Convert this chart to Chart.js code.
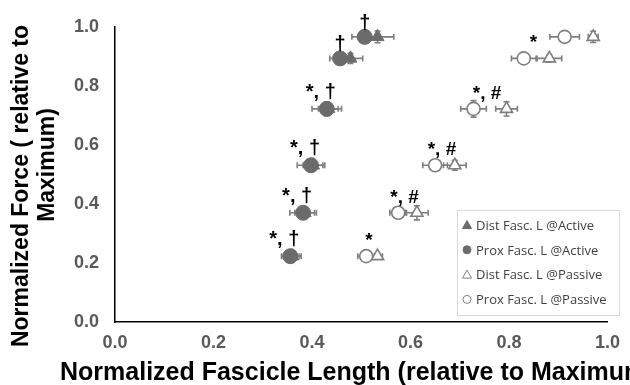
<!DOCTYPE html>
<html>
<head>
<meta charset="utf-8">
<script src="https://cdn.jsdelivr.net/npm/chart.js@4.4.1/dist/chart.umd.min.js"></script>
<style>
  html, body { margin: 0; padding: 0; background: #fff; }
  #wrap { position: relative; width: 630px; height: 385px; }
</style>
</head>
<body>
<div id="wrap"><canvas id="myChart" width="630" height="385"></canvas></div>
<script>
// force levels (y), bottom to top
const forceLevels = [0.223, 0.37, 0.531, 0.722, 0.893, 0.966];

// fascicle lengths (x)
const distActive = [0.36, 0.385, 0.402, 0.433, 0.478, 0.533];
const proxActive = [0.356, 0.382, 0.398, 0.43, 0.457, 0.507];
const distPassive = [0.533, 0.613, 0.69, 0.795, 0.882, 0.971];
const proxPassive = [0.51, 0.575, 0.65, 0.728, 0.83, 0.913];

// horizontal error (x) and vertical error (y)
const distActiveErr = [0.018, 0.02, 0.02, 0.02, 0.025, 0.033];
const proxActiveErr = [0.018, 0.027, 0.028, 0.03, 0.021, 0.026];
const distPassiveErr = [0.01, 0.023, 0.023, 0.022, 0.025, 0.01];
const proxPassiveErr = [0.017, 0.017, 0.025, 0.026, 0.025, 0.03];
const distActiveYErr = [0.01, 0.01, 0.015, 0.02, 0.017, 0.02];
const proxActiveYErr = [0.01, 0.01, 0.01, 0.023, 0.01, 0.01];
const distPassiveYErr = [0.01, 0.024, 0.017, 0.024, 0.012, 0.019];
const proxPassiveYErr = [0.01, 0.01, 0.01, 0.028, 0.01, 0.01];

// significance marks
const activeMarks = ["*, †", "*, †", "*, †", "*, †", "†", "†"];
const passiveMarks = ["*", "*, #", "*, #", "*, #", "*", ""];

const xTicks = [0, 0.2, 0.4, 0.6, 0.8, 1.0];
const yTicks = [0, 0.2, 0.4, 0.6, 0.8, 1.0];

const seriesNames = ["Dist Fasc. L @Active", "Prox Fasc. L @Active", "Dist Fasc. L @Passive", "Prox Fasc. L @Passive"];
const xTitle = "Normalized Fascicle Length (relative to Maximum)";
const yTitle = ["Normalized Force ( relative to", "Maximum)"];

const fillGrey = "#6b6b6b";
const lineGrey = "#7f7f7f";
const fontFam = "'Liberation Sans', Arial, sans-serif";

function pts(xs) {
  return xs.map((x, i) => ({ x: x, y: forceLevels[i] }));
}

const data = {
  datasets: [
    {
      label: seriesNames[0], data: pts(distActive), xErr: distActiveErr, yErr: distActiveYErr,
      pointStyle: "triangle", pointRadius: 7.5, backgroundColor: fillGrey, borderColor: fillGrey, borderWidth: 1, order: 2,
    },
    {
      label: seriesNames[1], data: pts(proxActive), xErr: proxActiveErr, yErr: proxActiveYErr,
      pointStyle: "circle", pointRadius: 7.5, backgroundColor: fillGrey, borderColor: fillGrey, borderWidth: 1, order: 1,
    },
    {
      label: seriesNames[2], data: pts(distPassive), xErr: distPassiveErr, yErr: distPassiveYErr,
      pointStyle: "triangle", pointRadius: 7, backgroundColor: "#fff", borderColor: lineGrey, borderWidth: 1.6, order: 4,
    },
    {
      label: seriesNames[3], data: pts(proxPassive), xErr: proxPassiveErr, yErr: proxPassiveYErr,
      pointStyle: "circle", pointRadius: 6.5, backgroundColor: "#fff", borderColor: lineGrey, borderWidth: 1.6, order: 3,
    },
  ],
};

// error bars behind the markers
const errorBars = {
  id: "errorBars",
  beforeDatasetsDraw(chart) {
    const { ctx, scales: { x, y } } = chart;
    ctx.save();
    ctx.strokeStyle = lineGrey;
    ctx.lineWidth = 1.6;
    chart.data.datasets.forEach((ds) => {
      ds.data.forEach((p, i) => {
        const px = x.getPixelForValue(p.x);
        const py = y.getPixelForValue(p.y);
        const x0 = x.getPixelForValue(p.x - ds.xErr[i]);
        const x1 = x.getPixelForValue(p.x + ds.xErr[i]);
        const y0 = y.getPixelForValue(p.y - ds.yErr[i]);
        const y1 = y.getPixelForValue(p.y + ds.yErr[i]);
        ctx.beginPath();
        ctx.moveTo(x0, py); ctx.lineTo(x1, py);
        ctx.moveTo(x0, py - 3); ctx.lineTo(x0, py + 3);
        ctx.moveTo(x1, py - 3); ctx.lineTo(x1, py + 3);
        ctx.moveTo(px, y0); ctx.lineTo(px, y1);
        ctx.moveTo(px - 3, y0); ctx.lineTo(px + 3, y0);
        ctx.moveTo(px - 3, y1); ctx.lineTo(px + 3, y1);
        ctx.stroke();
      });
    });
    ctx.restore();
  },
};

// *, †, # marks, axis titles and legend box
const marks = {
  id: "marks",
  afterDatasetsDraw(chart) {
    const { ctx, scales: { x, y } } = chart;
    ctx.save();
    ctx.fillStyle = "#000";
    ctx.font = "bold 20px " + fontFam;
    ctx.textBaseline = "alphabetic";
    activeMarks.forEach((m, i) => {
      const cx = x.getPixelForValue(proxActive[i]);
      const cy = y.getPixelForValue(forceLevels[i]);
      if (m === "†") {
        ctx.textAlign = "center";
        ctx.fillText(m, cx, cy - 8);
      } else {
        ctx.textAlign = "right";
        ctx.fillText(m, cx + 9, cy - 11);
      }
    });
    ctx.font = "bold 19px " + fontFam;
    passiveMarks.forEach((m, i) => {
      if (!m) return;
      const cx = x.getPixelForValue(proxPassive[i]);
      const tx = x.getPixelForValue(distPassive[i]);
      const cy = y.getPixelForValue(forceLevels[i]);
      ctx.textAlign = "center";
      ctx.fillText(m, (cx + tx) / 2 - 3, cy - 10);
    });

    // axis titles
    ctx.font = "bold 25px " + fontFam;
    ctx.textAlign = "left";
    ctx.fillText(xTitle, 60, 380);
    ctx.font = "bold 23px " + fontFam;
    ctx.textAlign = "center";
    ctx.textBaseline = "middle";
    ctx.save();
    ctx.translate(22, 186);
    ctx.rotate(-Math.PI / 2);
    ctx.fillText(yTitle[0], 0, 0);
    ctx.restore();
    ctx.save();
    ctx.translate(48, 165);
    ctx.rotate(-Math.PI / 2);
    ctx.fillText(yTitle[1], 0, 0);
    ctx.restore();

    // legend
    const lx = 457, ly = 210, lw = 162, lh = 105;
    ctx.fillStyle = "#fff";
    ctx.fillRect(lx, ly, lw, lh);
    ctx.strokeStyle = "#d9d9d9";
    ctx.lineWidth = 1;
    ctx.strokeRect(lx + 0.5, ly + 0.5, lw, lh);
    ctx.font = "13px 'Open Sans', sans-serif";
    ctx.textAlign = "left";
    ctx.textBaseline = "middle";
    chart.data.datasets.forEach((ds, i) => {
      const ry = ly + 15 + i * 24.8;
      ctx.fillStyle = ds.backgroundColor;
      ctx.strokeStyle = ds.borderColor;
      ctx.lineWidth = 1;
      ctx.beginPath();
      if (ds.pointStyle === "circle") {
        ctx.arc(467, ry, 4, 0, Math.PI * 2);
      } else {
        ctx.moveTo(467, ry - 4.5);
        ctx.lineTo(471.5, ry + 3.5);
        ctx.lineTo(462.5, ry + 3.5);
        ctx.closePath();
      }
      ctx.fill();
      ctx.stroke();
      ctx.fillStyle = "#404040";
      ctx.fillText(ds.label, 476, ry + 1);
    });
    ctx.restore();
  },
};

const tickFont = { family: fontFam, size: 18, weight: "bold" };

const config = {
  type: "scatter",
  data,
  options: {
    responsive: false,
    animation: false,
    layout: { padding: { top: 22, right: 15, left: 0, bottom: 0 } },
    plugins: { legend: { display: false }, tooltip: { enabled: false } },
    scales: {
      x: {
        type: "linear",
        min: 0, max: 1,
        afterBuildTicks: (s) => { s.ticks = xTicks.map((v) => ({ value: v })); },
        afterFit: (s) => { s.height = 63; },
        grid: { display: false, drawTicks: false },
        border: { display: true, color: "#000", width: 1.5 },
        ticks: { color: "#595959", font: tickFont, padding: 10, callback: (v) => v.toFixed(1) },
      },
      y: {
        type: "linear",
        min: 0, max: 1,
        afterBuildTicks: (s) => { s.ticks = yTicks.map((v) => ({ value: v })); },
        afterFit: (s) => { s.width = 115; },
        grid: { display: false, drawTicks: false },
        border: { display: true, color: "#000", width: 1.5 },
        ticks: { color: "#595959", font: tickFont, padding: 16, callback: (v) => v.toFixed(1) },
      },
    },
  },
  plugins: [errorBars, marks],
};

const myChart = new Chart(document.getElementById("myChart"), config);
</script>
</body>
</html>
